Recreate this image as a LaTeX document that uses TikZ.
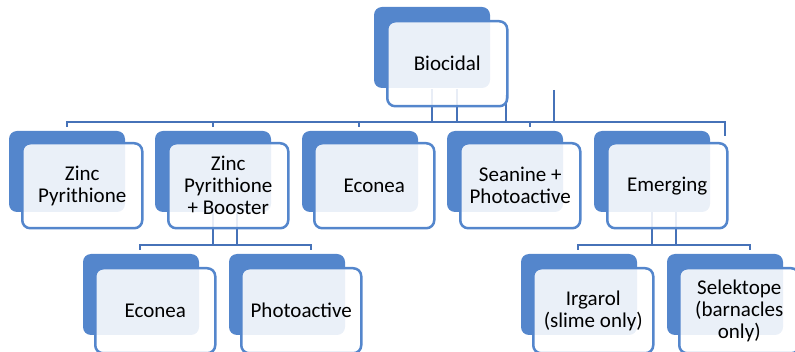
\documentclass[tikz,border=0pt]{standalone}
\usepackage{fontspec}
\setmainfont{Carlito}
\definecolor{cardblue}{RGB}{84,134,204}
\definecolor{linkblue}{RGB}{70,114,184}
\begin{document}
\begin{tikzpicture}[x=1pt,y=-1pt,
  back/.style={fill=cardblue, rounded corners=8pt, anchor=north west, minimum width=116pt, minimum height=81pt, inner sep=0pt, outer sep=0pt},
  front/.style={fill=white, fill opacity=0.88, text opacity=1, draw=cardblue, line width=2.5pt, rounded corners=8pt, anchor=north west, minimum width=120pt, minimum height=85pt, inner sep=0pt, align=center, font=\fontsize{21}{22}\selectfont},
  link/.style={draw=linkblue, line width=2.5pt}]
\useasboundingbox (0,0) rectangle (795,352);
\clip (0,0) rectangle (795,352);
% named connector points
\coordinate (busL) at (67,122);
\coordinate (busR) at (725,122);
\coordinate (bus2L) at (140,245);
\coordinate (bus2R) at (311,245);
\coordinate (bus3L) at (578,245);
\coordinate (bus3R) at (750,245);
% connectors (drawn first, behind the cards)
\draw[link] (67,127) -- (busL) -- (busR) -- (725,136);
\draw[link] (213,122) -- (213,127);
\draw[link] (359,122) -- (359,127);
\draw[link] (530,122) -- (530,127);
\draw[link] (432,89) -- (432,122);
\draw[link] (457,89) -- (457,122);
\draw[link] (506,95) -- (506,122);
\draw[link] (554,90) -- (554,122);
% under Zinc Pyrithione + Booster
\draw[link] (213,212) -- (213,245);
\draw[link] (237,212) -- (237,245);
\draw[link] (140,250) -- (bus2L) -- (bus2R) -- (311,250);
% under Emerging
\draw[link] (652,212) -- (652,245);
\draw[link] (676,212) -- (676,245);
\draw[link] (578,250) -- (bus3L) -- (bus3R) -- (750,250);
% top card
\node[back] (topb) at (374,7) {};
\node[front] (top) at (386,20) {Biocidal};
% second row
\node[back] (z1b) at (9,131) {};
\node[front] (z1) at (21,142) {Zinc\\Pyrithione};
\node[back] (z2b) at (155,131) {};
\node[front] (z2) at (167,142) {Zinc\\Pyrithione\\+ Booster};
\node[back] (z3b) at (302,131) {};
\node[front] (z3) at (313,142) {Econea};
\node[back] (z4b) at (447,131) {};
\node[front] (z4) at (459,142) {Seanine +\\Photoactive};
\node[back] (z5b) at (594,131) {};
\node[front] (z5) at (606,142) {Emerging};
% third row
\node[back] (c1b) at (83,254) {};
\node[front] (c1) at (94,267) {Econea};
\node[back] (c2b) at (229,254) {};
\node[front] (c2) at (240,267) {Photoactive};
\node[back] (c3b) at (521,254) {};
\node[front] (c3) at (532,267) {Irgarol\\(slime only)};
\node[back] (c4b) at (667,254) {};
\node[front] (c4) at (678,267) {Selektope\\(barnacles\\only)};
\end{tikzpicture}
\end{document}
